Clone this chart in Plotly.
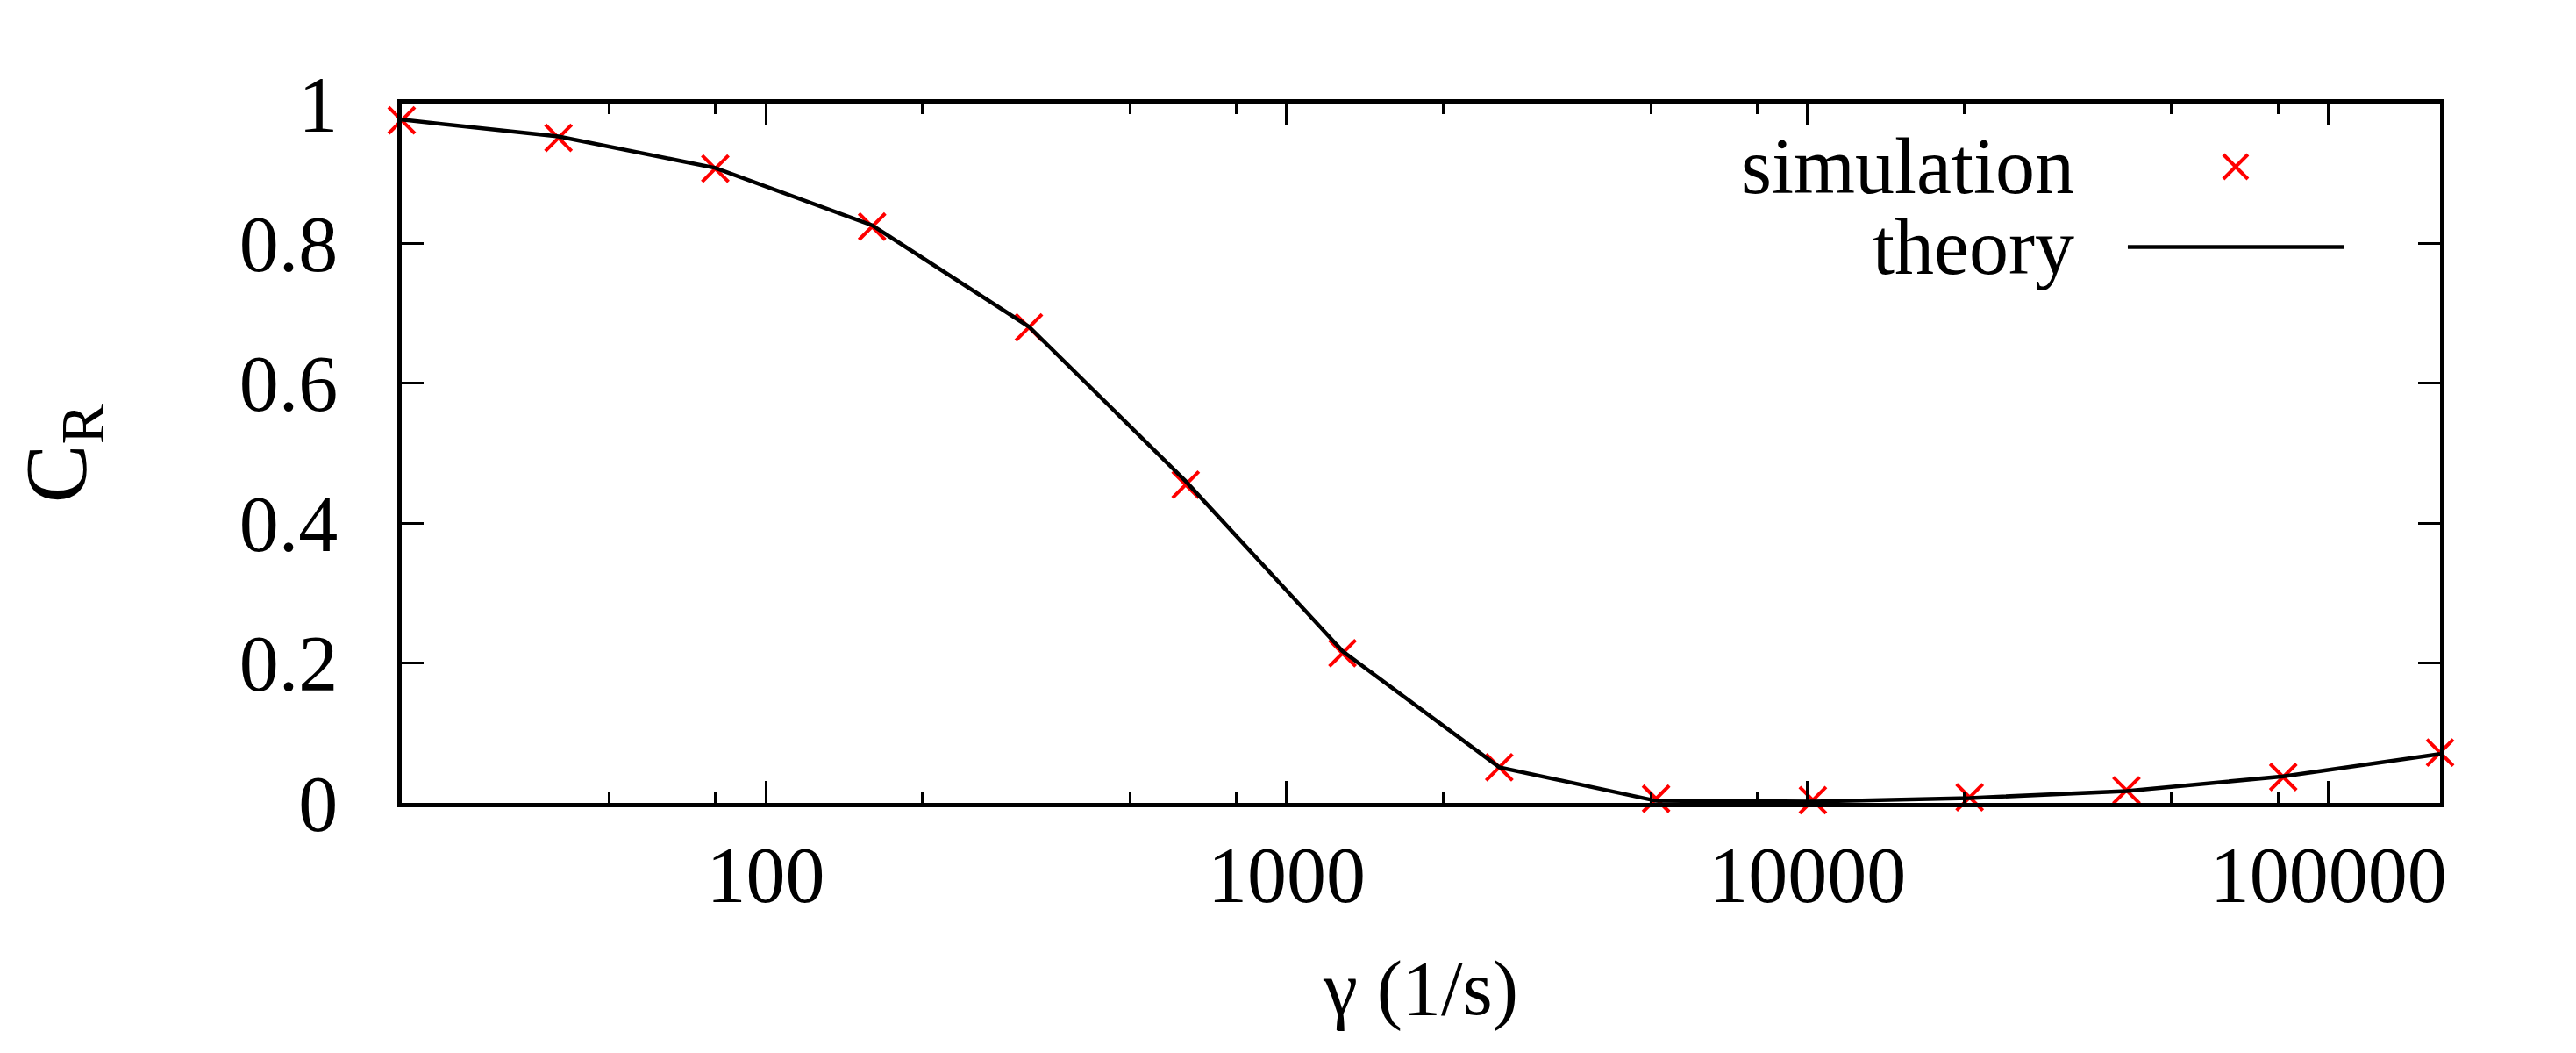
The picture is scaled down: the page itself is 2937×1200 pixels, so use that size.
import math
import plotly.graph_objects as go

# data
gamma = [20, 40, 80, 160, 320, 640, 1280, 2560, 5120, 10240, 20480, 40960, 81920, 163840]
cr_simulation = [0.976, 0.951, 0.907, 0.824, 0.680, 0.455, 0.214, 0.051, 0.006, 0.004, 0.008, 0.018, 0.037, 0.072]
cr_theory = [0.977, 0.953, 0.908, 0.826, 0.681, 0.460, 0.217, 0.051, 0.003, 0.002, 0.007, 0.017, 0.038, 0.070]

x_ticks = [100, 1000, 10000, 100000]
x_minor = [20, 50, 80, 200, 500, 800, 2000, 5000, 8000, 20000, 50000, 80000]
y_ticks = [0, 0.2, 0.4, 0.6, 0.8, 1]
y_ticktext = ["0", "0.2", "0.4", "0.6", "0.8", "1"]

FONT = "Liberation Serif, Times New Roman, serif"

fig = go.Figure()

fig.add_trace(go.Scatter(
    x=gamma, y=cr_simulation, mode="markers", name="simulation",
    marker=dict(symbol="x-thin", size=30, line=dict(color="#ff0000", width=4)),
    cliponaxis=False, showlegend=False))

fig.add_trace(go.Scatter(
    x=gamma, y=cr_theory, mode="lines", name="theory",
    line=dict(color="black", width=4.5),
    cliponaxis=False, showlegend=False))

axis_common = dict(
    showline=True, linecolor="black", linewidth=4.5, mirror="ticks",
    ticks="inside", tickcolor="black", tickwidth=2.5, ticklen=25,
    showgrid=False, zeroline=False,
    tickfont=dict(family=FONT, size=90, color="black"),
)

# pad the range by a hair so the end points are not dropped
x_lo = math.log10(min(gamma)) - 1e-5
x_hi = math.log10(max(gamma)) + 1e-5

fig.update_xaxes(
    type="log", range=[x_lo, x_hi],
    tickmode="array", tickvals=x_ticks, ticktext=[str(v) for v in x_ticks],
    minor=dict(tickmode="array", tickvals=x_minor, ticks="inside", ticklen=12,
               tickwidth=2.5, tickcolor="black", showgrid=False),
    ticklabelstandoff=0,
    title=dict(text="γ (1/s)", font=dict(family=FONT, size=88, color="black"), standoff=50),
    **axis_common)

fig.update_yaxes(
    range=[0, 1], tickmode="array", tickvals=y_ticks, ticktext=y_ticktext,
    ticklabelstandoff=50,
    title=dict(text="C<sub>R</sub>", font=dict(family=FONT, size=100, color="black"), standoff=150),
    **axis_common)

# gnuplot-style key: text on the left, sample on the right
fig.add_annotation(x=0.8214, y=0.9097, xref="paper", yref="paper", text="simulation",
                   showarrow=False, xanchor="right", yanchor="middle",
                   font=dict(family=FONT, size=90, color="black"))
fig.add_annotation(x=0.8214, y=0.795, xref="paper", yref="paper", text="theory",
                   showarrow=False, xanchor="right", yanchor="middle",
                   font=dict(family=FONT, size=90, color="black"))
for sx in (1, -1):
    fig.add_shape(type="line", xref="paper", yref="paper",
                  xsizemode="pixel", ysizemode="pixel", xanchor=0.8997, yanchor=0.9097,
                  x0=-14, x1=14, y0=-14 * sx, y1=14 * sx,
                  line=dict(color="#ff0000", width=4))
fig.add_shape(type="line", xref="paper", yref="paper", x0=0.8468, x1=0.9527, y0=0.795, y1=0.795,
              line=dict(color="black", width=4.5))

fig.update_layout(
    width=2937, height=1200,
    margin=dict(l=450, r=163, t=110, b=293, autoexpand=False),
    paper_bgcolor="white", plot_bgcolor="white",
    font=dict(family=FONT, color="black"),
)

fig.write_html("out.html")
